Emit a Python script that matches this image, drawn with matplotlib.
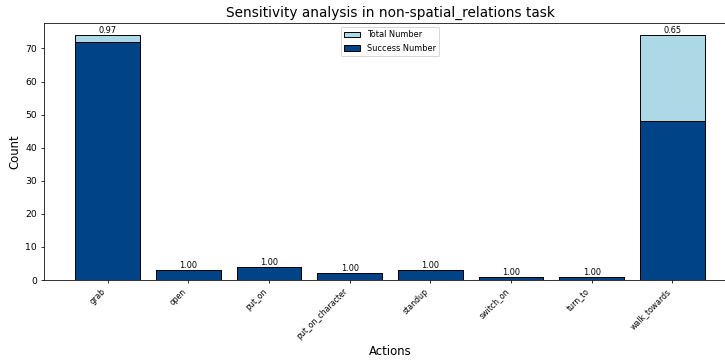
import matplotlib.pyplot as plt
import numpy as np

actions = ["grab", "open", "put_on", "put_on_character", "standup",
           "switch_on", "turn_to", "walk_towards"]
total = [74, 3, 4, 2, 3, 1, 1, 74]
success = [72, 3, 4, 2, 3, 1, 1, 48]

# rendered at dpi 70 so default font sizes / line widths scale down
fig = plt.figure(figsize=(725 / 70, 364 / 70), dpi=70)
ax = fig.add_axes([44 / 725, 84 / 364, 692 / 725, 257 / 364])

x = np.arange(len(actions))
ax.bar(x, total, color="lightblue", edgecolor="black", label="Total Number")
ax.bar(x, success, color="#004387", edgecolor="black", label="Success Number")

for i in range(len(actions)):
    ratio = success[i] / total[i]
    ax.text(x[i], total[i], "%.2f" % ratio, ha="center", va="bottom", fontsize=8.5)

ax.set_xticks(x)
ax.set_xticklabels(actions, rotation=45, ha="right", fontsize=8)
ax.tick_params(axis="y", labelsize=9.5)
ax.set_xlabel("Actions", fontsize=12)
ax.set_ylabel("Count", fontsize=12)
ax.set_title("Sensitivity analysis in non-spatial_relations task", fontsize=14)
ax.legend(loc="upper center", fontsize=8.5)

fig.savefig("out.png", dpi=70)
